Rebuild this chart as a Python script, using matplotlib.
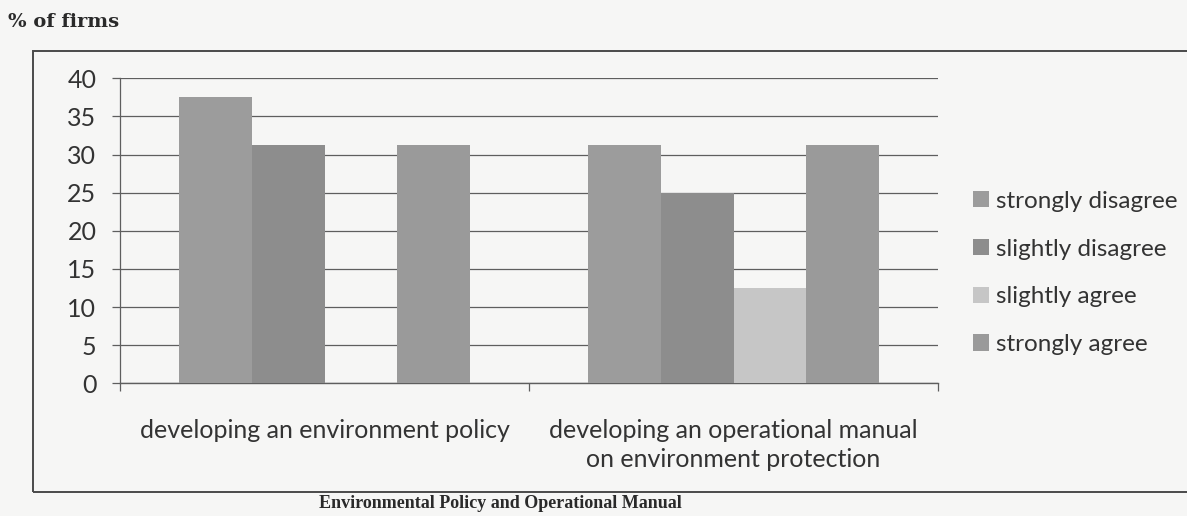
import matplotlib
matplotlib.use("Agg")
import matplotlib.pyplot as plt
from matplotlib.patches import Rectangle, Patch
import numpy as np

# Survey responses (% of firms)
categories = ["developing an environment policy",
              "developing an operational manual\non environment protection"]
series_names = ["strongly disagree", "slightly disagree", "slightly agree", "strongly agree"]
strongly_disagree = [37.5, 31.25]
slightly_disagree = [31.25, 25.0]
slightly_agree = [0.0, 12.5]
strongly_agree = [31.25, 31.25]
y_ticks = [0, 5, 10, 15, 20, 25, 30, 35, 40]

series_values = [strongly_disagree, slightly_disagree, slightly_agree, strongly_agree]
series_colors = ["#9c9c9c", "#8d8d8d", "#c6c6c6", "#9a9a9a"]

W, H = 1187, 516
DPI = 100
bg = "#f6f6f5"
text_col = "#333333"
grid_col = "#5e5e5e"
body_font = "Lato"

fig = plt.figure(figsize=(W / DPI, H / DPI), dpi=DPI, facecolor=bg)

# Outer chart frame (runs off the right edge)
frame = Rectangle((33 / W, 1 - 492 / H), 1.2, (492 - 51) / H,
                  transform=fig.transFigure, fill=False,
                  edgecolor="#4a4a4a", linewidth=1.4, clip_on=False)
fig.patches.append(frame)

ax = fig.add_axes([120 / W, 1 - 383.3 / H, (938 - 120) / W, (383.3 - 78.3) / H])
ax.set_facecolor("none")

x = np.arange(len(categories))
bar_w = 0.178
n = len(series_values)
for i, (vals, col, name) in enumerate(zip(series_values, series_colors, series_names)):
    offs = (i - (n - 1) / 2) * bar_w
    ax.bar(x + offs, vals, width=bar_w, color=col, edgecolor="none", zorder=3, label=name)

ax.set_xlim(-0.5, len(categories) - 0.5)
ax.set_ylim(0, 40)
ax.set_yticks(y_ticks)
ax.set_yticklabels([str(t) for t in y_ticks], fontsize=18, color=text_col,
                   fontfamily=body_font)
ax.yaxis.grid(True, color=grid_col, linewidth=0.9, zorder=0)
ax.set_axisbelow(True)

# Category ticks sit at group boundaries, labels at group centres
ax.set_xticks(np.arange(-0.5, len(categories), 1.0))
ax.set_xticklabels([])
ax.set_xticks(x, minor=True)
ax.set_xticklabels(categories, minor=True, fontsize=18, color=text_col,
                   fontfamily=body_font, linespacing=1.3)
ax.tick_params(axis="x", which="major", length=6, width=0.9, color=grid_col, direction="out")
ax.tick_params(axis="x", which="minor", length=0, pad=26)
ax.tick_params(axis="y", length=6, width=0.9, color=grid_col, pad=11)

for side in ("top", "right"):
    ax.spines[side].set_visible(False)
ax.spines["left"].set_color(grid_col)
ax.spines["left"].set_linewidth(0.9)
ax.spines["bottom"].set_color(grid_col)
ax.spines["bottom"].set_linewidth(1.0)

handles = [Patch(facecolor=c, edgecolor="none") for c in series_colors]
fig.legend(handles, series_names, loc="center left",
           bbox_to_anchor=(973 / W, 1 - 273 / H), frameon=False,
           borderpad=0, borderaxespad=0,
           prop={"family": body_font, "size": 17.5}, labelcolor=text_col,
           handlelength=0.65, handleheight=0.65, handletextpad=0.3,
           labelspacing=1.1)

fig.text(8 / W, 1 - 22 / H, "% of firms", fontsize=14, fontweight="bold",
         fontfamily="DejaVu Serif", color="#2a2a2a", va="center", ha="left")
fig.text(500 / W, 1 - 504 / H, "Environmental Policy and Operational Manual",
         fontsize=13, fontweight="bold", fontfamily="Liberation Serif",
         color="#2a2a2a", va="center", ha="center")

fig.savefig("out.png", dpi=DPI, facecolor=bg)
